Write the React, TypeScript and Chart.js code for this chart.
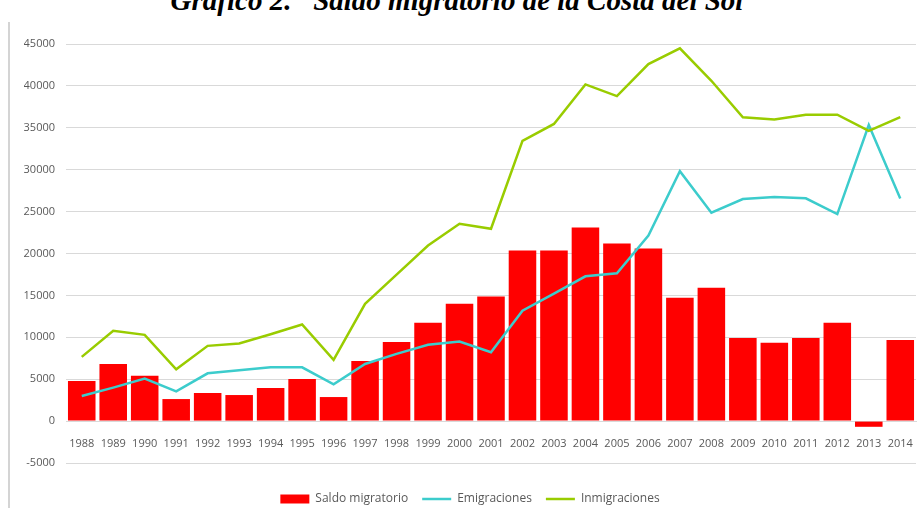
import React, { useEffect, useRef } from "react";
import { Chart, registerables } from "chart.js";

Chart.register(...registerables);

const titleText = "Gráfico 2.   Saldo migratorio de la Costa del Sol";

const years = [
  "1988", "1989", "1990", "1991", "1992", "1993", "1994", "1995", "1996",
  "1997", "1998", "1999", "2000", "2001", "2002", "2003", "2004", "2005",
  "2006", "2007", "2008", "2009", "2010", "2011", "2012", "2013", "2014",
];

const saldoMigratorio = [
  4800, 6800, 5400, 2630, 3350, 3110, 3950, 5030, 2870,
  7180, 9450, 11730, 14000, 14870, 20350, 20350, 23100, 21190,
  20590, 14720, 15920, 9930, 9340, 9930, 11730, -680, 9690,
];

const emigraciones = [
  2990, 3990, 5070, 3550, 5700, 6060, 6420, 6420, 4390,
  6820, 8020, 9100, 9500, 8220, 13170, 15200, 17280, 17640,
  22150, 29820, 24870, 26500, 26740, 26590, 24700, 35330, 26550,
];

const inmigraciones = [
  7660, 10770, 10290, 6190, 8980, 9260, 10370, 11530, 7300,
  14000, 17480, 20950, 23550, 22950, 33440, 35460, 40180, 38780,
  42610, 44480, 40610, 36250, 35990, 36560, 36560, 34640, 36280,
];

const yMin = -5000;
const yMax = 45000;
const yStep = 5000;

const RED = "#ff0000";
const CYAN = "#3ccccc";
const GREEN = "#99cc00";
const TEXT = "#595959";
const GRID = "#d9d9d9";
const FONT = "'Open Sans', 'Noto Sans', sans-serif";

export default function App() {
  const canvasRef = useRef<HTMLCanvasElement | null>(null);

  useEffect(() => {
    const canvas = canvasRef.current;
    if (!canvas) return;
    const chart = new Chart(canvas, {
      type: "bar",
      data: {
        labels: years,
        datasets: [
          {
            type: "bar",
            label: "Saldo migratorio",
            data: saldoMigratorio,
            backgroundColor: RED,
            borderWidth: 0,
            barPercentage: 0.875,
            categoryPercentage: 1,
            pointStyle: "rect",
            order: 3,
          },
          {
            type: "line",
            label: "Emigraciones",
            data: emigraciones,
            borderColor: CYAN,
            backgroundColor: CYAN,
            borderWidth: 2.5,
            pointRadius: 0,
            pointStyle: "line",
            tension: 0,
            order: 2,
          },
          {
            type: "line",
            label: "Inmigraciones",
            data: inmigraciones,
            borderColor: GREEN,
            backgroundColor: GREEN,
            borderWidth: 2.5,
            pointRadius: 0,
            pointStyle: "line",
            tension: 0,
            order: 1,
          },
        ],
      },
      options: {
        responsive: false,
        animation: false,
        layout: { padding: { left: 24, right: 2, top: 44, bottom: -7 } },
        scales: {
          x: {
            type: "category",
            position: { y: 0 } as any,
            offset: true,
            grid: { display: false, drawTicks: true, tickLength: 12 },
            border: { display: true, color: GRID, width: 1 },
            ticks: {
              color: TEXT,
              font: { family: FONT, size: 11 },
              padding: 4,
              maxRotation: 0,
              autoSkip: false,
            },
          },
          y: {
            type: "linear",
            min: yMin,
            max: yMax,
            grid: { color: GRID, lineWidth: 1, drawTicks: false },
            border: { display: false },
            afterFit: (scale: any) => {
              scale.width = 42;
            },
            ticks: {
              stepSize: yStep,
              color: TEXT,
              font: { family: FONT, size: 11 },
              padding: 11,
              callback: (v: any) => String(v),
            },
          },
        },
        plugins: {
          tooltip: { enabled: false },
          title: { display: false },
          legend: {
            display: true,
            position: "bottom",
            title: {
              display: true,
              text: "",
              font: { size: 1, lineHeight: 1 },
              padding: { top: 15, bottom: 0 },
            },
            labels: {
              usePointStyle: true,
              pointStyleWidth: 29,
              boxHeight: 9,
              padding: 14,
              color: TEXT,
              font: { family: FONT, size: 12 },
              sort: (a: any, b: any) => a.datasetIndex - b.datasetIndex,
            },
          },
        },
      },
    });
    return () => chart.destroy();
  }, []);

  return (
    <div
      style={{
        position: "absolute",
        left: 0,
        top: 0,
        width: 918,
        height: 508,
        overflow: "hidden",
        background: "#ffffff",
      }}
    >
      <div
        style={{
          position: "absolute",
          left: 8,
          top: 22,
          width: 2,
          height: 486,
          background: "#d4d4d4",
        }}
      />
      <div
        style={{
          position: "absolute",
          left: 0,
          width: 914,
          top: -14,
          textAlign: "center",
          fontFamily: "'Liberation Serif', 'Times New Roman', serif",
          fontWeight: "bold",
          fontStyle: "italic",
          fontSize: 29,
          lineHeight: "29px",
          whiteSpace: "pre",
          color: "#000",
        }}
      >
        {titleText}
      </div>
      <canvas
        ref={canvasRef}
        width={918}
        height={508}
        style={{ position: "absolute", left: 0, top: 0, width: 918, height: 508 }}
      />
    </div>
  );
}
